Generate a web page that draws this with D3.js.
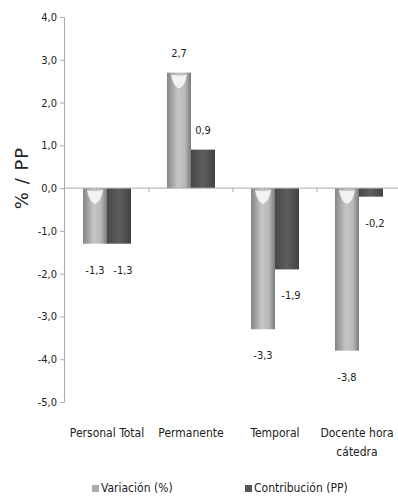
<!DOCTYPE html>
<html><head><meta charset="utf-8">
<script src="https://cdn.jsdelivr.net/npm/d3@7"></script>
<style>
body{margin:0;background:#fff;}
text{font-family:"Liberation Sans Narrow","DejaVu Sans Condensed",sans-serif;fill:#222;}
</style></head>
<body><svg id="c" width="398" height="497"></svg>
<script>
const categories = [["Personal Total"], ["Permanente"], ["Temporal"], ["Docente hora", "cátedra"]];
const seriesNames = ["Variación (%)", "Contribución (PP)"];
const variacion = [-1.3, 2.7, -3.3, -3.8];
const contribucion = [-1.3, 0.9, -1.9, -0.2];
const yTicks = [4, 3, 2, 1, 0, -1, -2, -3, -4, -5];

const svg = d3.select("#c");
const defs = svg.append("defs");
const g1 = defs.append("linearGradient").attr("id","gv").attr("x1","0").attr("x2","1").attr("y1","0").attr("y2","0");
[["0%","#858585"],["45%","#c6c6c6"],["75%","#b8b8b8"],["100%","#7a7a7a"]].forEach(s=>g1.append("stop").attr("offset",s[0]).attr("stop-color",s[1]));
const g2 = defs.append("linearGradient").attr("id","gc").attr("x1","0").attr("x2","1").attr("y1","0").attr("y2","0");
[["0%","#474747"],["50%","#5e5e5e"],["100%","#424242"]].forEach(s=>g2.append("stop").attr("offset",s[0]).attr("stop-color",s[1]));

const y = d3.scaleLinear().domain([-5, 4]).range([402, 17]);
const x0 = d3.scaleBand().domain(d3.range(categories.length)).range([65, 401]).padding(0);
const x1 = d3.scaleBand().domain([0,1]).range([18, 66]).padding(0);

const fmt = v=>d3.format(".1f")(v).replace(".",",").replace("−","-");

// y axis
const yAxis = svg.append("g").attr("transform","translate(64,0)")
  .call(d3.axisLeft(y).tickValues(yTicks).tickSize(4).tickFormat(fmt));
yAxis.select(".domain").attr("stroke","#aaa");
yAxis.selectAll(".tick line").attr("stroke","#aaa");
yAxis.selectAll("text").attr("font-size",11).attr("fill","#222").attr("x",-7);

svg.append("text").attr("transform","translate(28,178) rotate(-90)").attr("text-anchor","middle")
  .attr("font-size",18).attr("letter-spacing",1).style("font-family","'DejaVu Sans',sans-serif").attr("fill","#333").text("% / PP");

const data = categories.map((c,i)=>({i, vals:[variacion[i], contribucion[i]]}));

const grp = svg.append("g").selectAll("g").data(data).join("g")
  .attr("transform", d=>`translate(${x0(d.i)},0)`);
grp.selectAll("rect").data(d=>d.vals.map((v,k)=>({v,k}))).join("rect")
  .attr("x", d=>x1(d.k)).attr("width", x1.bandwidth())
  .attr("y", d=>y(Math.max(0,d.v))).attr("height", d=>Math.abs(y(d.v)-y(0)))
  .attr("fill", d=>d.k===0?"url(#gv)":"url(#gc)");
// highlight on variation bars
grp.append("path")
  .attr("d", d=>{
    const v=d.vals[0]; const top=y(Math.max(0,v))+2; const cx=x1(0)+x1.bandwidth()/2;
    return `M${cx-8},${top} Q${cx},${top+2} ${cx+8},${top} Q${cx+6},${top+12} ${cx},${top+14} Q${cx-6},${top+12} ${cx-8},${top} Z`;
  })
  .attr("fill","#f2f2f2");

// x axis at zero
const xAxisG = svg.append("g");
xAxisG.append("line").attr("x1",64).attr("x2",398).attr("y1",y(0)).attr("y2",y(0)).attr("stroke","#aaa");
xAxisG.selectAll("line.t").data(d3.range(1,categories.length)).join("line").attr("class","t")
  .attr("x1",d=>x0(d)).attr("x2",d=>x0(d)).attr("y1",y(0)).attr("y2",y(0)+4).attr("stroke","#aaa");

// value labels
grp.selectAll("text.v").data(d=>d.vals.map((v,k)=>({v,k}))).join("text").attr("class","v")
  .attr("x", d=>x1(d.k)+x1.bandwidth()/2 + (d.k===1?(d.v<0?4:0):0))
  .attr("y", d=>d.v>=0 ? y(d.v)-16 : y(d.v)+30)
  .attr("text-anchor","middle").attr("font-size",11).text(d=>fmt(d.v));

// category labels
svg.append("g").selectAll("text").data(categories).join("text")
  .attr("x",(d,i)=>x0(i)+x0.bandwidth()/2 - (i===3?2:0)).attr("y",437)
  .attr("text-anchor","middle").attr("font-size",12)
  .each(function(d){
    d.forEach((l,j)=>d3.select(this).append("tspan").attr("x",d3.select(this).attr("x")).attr("dy",j?19:0).text(l));
  });

// legend
const leg = svg.append("g");
const lx = [92, 245];
seriesNames.forEach((n,k)=>{
  leg.append("rect").attr("x",lx[k]).attr("y",485).attr("width",7).attr("height",7).attr("fill",k?"#555":"#aaa");
  leg.append("text").attr("x",lx[k]+9).attr("y",492).attr("font-size",12).text(n);
});
</script></body></html>
